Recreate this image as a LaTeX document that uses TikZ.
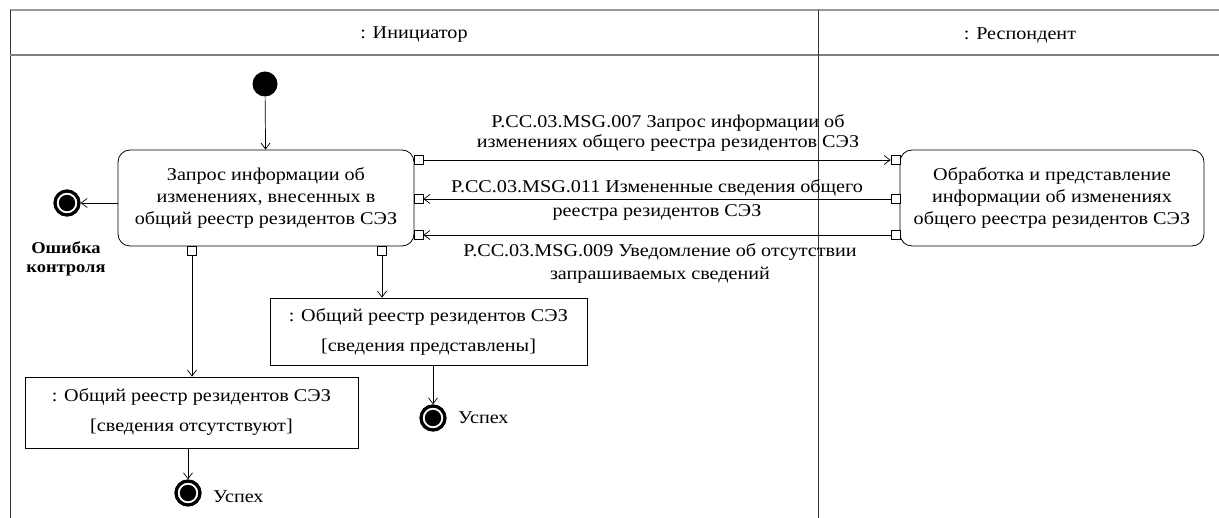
\documentclass[tikz,border=0pt]{standalone}
\usepackage{fontspec}
\setmainfont[FakeStretch=1.12]{Liberation Serif}
\usetikzlibrary{arrows.meta}
\begin{document}
\begin{tikzpicture}[x=1pt,y=-1pt,
  every node/.style={font=\fontsize{18}{22}\selectfont, inner sep=0pt},
  act/.style={draw, rounded corners=12pt, align=center, line width=0.8pt},
  obj/.style={draw, align=center, line width=0.8pt},
  pinbox/.style={draw, fill=white, minimum size=9pt, line width=0.8pt},
  arr/.style={line width=0.7pt, -{Straight Barb[length=6pt,width=9pt]}},
  startnode/.style={circle, fill=black, minimum size=25pt},
  finalnode/.style={circle, draw, line width=3.3pt, minimum size=24pt, fill=white,
     path picture={\fill[black] (path picture bounding box.center) circle (8.2pt);}},
  lbl/.style={align=center},
  frame/.style={line width=0.9pt, draw=black!80}
]
\useasboundingbox (0,0) rectangle (1219,518);
% swimlanes
\draw[frame, draw=black!40, line width=2pt] (10,10) -- (1219,10);
\draw[frame] (10,10) -- (10,518);
\draw[frame, draw=black!50, line width=1.5pt] (10,55) -- (1219,55);
\draw[frame] (818,10) -- (818,518);
\node (lane1) at (414,35) {: Инициатор};
\node (lane2) at (1020,35) {: Респондент};

% nodes
\node[startnode] (start) at (265,84) {};
\node[act, minimum width=296pt, minimum height=96pt] (a1) at (266,198)
  {Запрос информации об\\изменениях, внесенных в\\общий реестр резидентов СЭЗ};
\node[act, minimum width=304pt, minimum height=96pt] (a2) at (1052,198)
  {Обработка и представление\\информации об изменениях\\общего реестра резидентов СЭЗ};
\node[finalnode] (ferr) at (67,203) {};
\node[lbl, font=\fontsize{16.5}{18.5}\selectfont\bfseries] (ferrl) at (66,259) {Ошибка\\контроля};

\node[obj, minimum width=317pt, minimum height=67pt] (o1) at (428.5,331.5)
  {: Общий реестр резидентов СЭЗ\\[8pt][сведения представлены]};
\node[obj, minimum width=333pt, minimum height=71pt] (o2) at (191.5,412.5)
  {: Общий реестр резидентов СЭЗ\\[8pt][сведения отсутствуют]};
\node[finalnode] (f1) at (433,418) {};
\node[anchor=west] (f1l) at (458,418) {Успех};
\node[finalnode] (f2) at (188,493) {};
\node[anchor=west] (f2l) at (213,497) {Успех};

% pins
\node[pinbox] (p1) at (418.5,160) {};
\node[pinbox] (p2) at (418.5,199) {};
\node[pinbox] (p3) at (418.5,235) {};
\node[pinbox] (q1) at (895.5,160) {};
\node[pinbox] (q2) at (895.5,199) {};
\node[pinbox] (q3) at (895.5,235) {};
\node[pinbox] (b1) at (192,251) {};
\node[pinbox] (b2) at (382,251) {};

% connectors
\draw[arr] (start) -- (a1);
\draw[arr] (a1.west |- ferr) -- (ferr);
\draw[arr] (p1.east) -- (q1.west);
\draw[arr] (q2.west) -- (p2.east);
\draw[arr] (q3.west) -- (p3.east);
\draw[arr] (b1.south) -- (b1.south |- o2.north);
\draw[arr] (b2.south) -- (b2.south |- o1.north);
\draw[arr] (f1 |- o1.south) -- (f1);
\draw[arr] (f2 |- o2.south) -- (f2);

% message labels
\node[lbl] (m1) at (668,133) {P.CC.03.MSG.007 Запрос информации об\\[-2pt]изменениях общего реестра резидентов СЭЗ};
\node (m2a) at (657,188) {P.CC.03.MSG.011 Измененные сведения общего};
\node (m2b) at (657,212) {реестра резидентов СЭЗ};
\node[lbl] (m3) at (660,263.5) {P.CC.03.MSG.009 Уведомление об отсутствии\\[1pt]запрашиваемых сведений};
\end{tikzpicture}
\end{document}
